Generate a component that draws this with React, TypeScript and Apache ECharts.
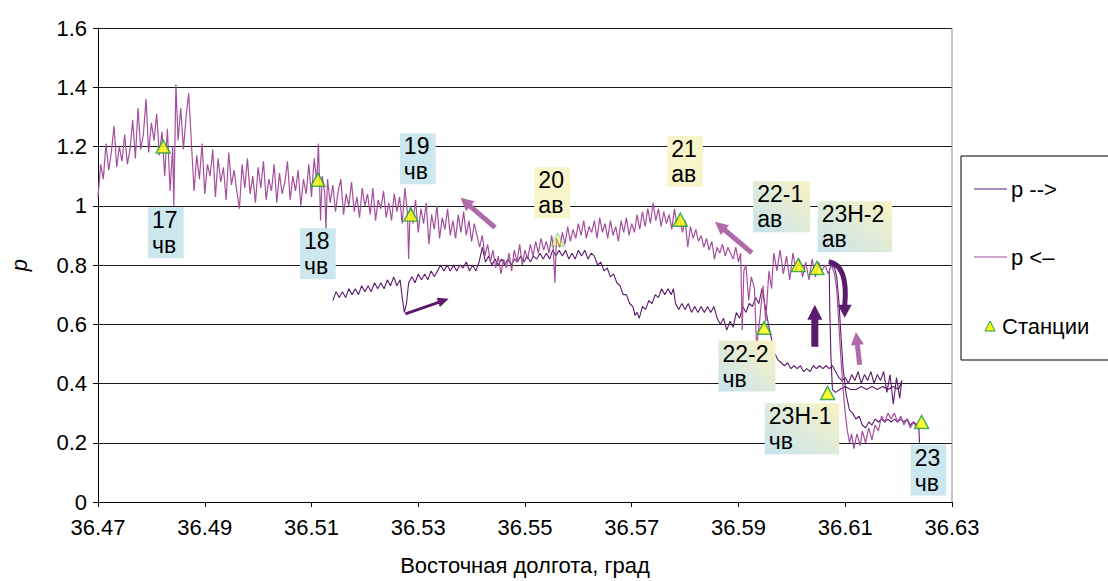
import React, { useEffect, useRef } from "react";
import * as echarts from "echarts";

// ---------- data ----------
const xMin = 36.47;
const xMax = 36.63;
const xStep = 0.02;
const yMin = 0;
const yMax = 1.6;
const yStep = 0.2;

// "p -->" (forward run)
const pFwd: [number, number][] = [
  [36.514, 0.68], [36.5146, 0.71], [36.5152, 0.69], [36.5158, 0.71], [36.5164, 0.69], [36.517, 0.72], [36.5176, 0.7], [36.5182, 0.72],
  [36.5188, 0.7], [36.5194, 0.73], [36.52, 0.71], [36.5206, 0.73], [36.5212, 0.71], [36.5218, 0.74], [36.5224, 0.72], [36.523, 0.74],
  [36.5236, 0.72], [36.5242, 0.75], [36.5248, 0.73], [36.5254, 0.76], [36.526, 0.73], [36.5266, 0.75], [36.527, 0.69], [36.5274, 0.64],
  [36.5278, 0.67], [36.5282, 0.74], [36.5288, 0.76], [36.5294, 0.74], [36.53, 0.77], [36.5306, 0.75], [36.5312, 0.77], [36.5318, 0.75],
  [36.5324, 0.78], [36.533, 0.76], [36.5336, 0.78], [36.5342, 0.8], [36.5348, 0.78], [36.5354, 0.8], [36.536, 0.78], [36.5366, 0.8],
  [36.5372, 0.78], [36.5378, 0.8], [36.5384, 0.79], [36.539, 0.81], [36.5396, 0.78], [36.5402, 0.8], [36.5408, 0.78], [36.5414, 0.81],
  [36.542, 0.86], [36.5426, 0.81], [36.5432, 0.83], [36.5438, 0.8], [36.5444, 0.82], [36.545, 0.8], [36.5456, 0.82], [36.5462, 0.8],
  [36.5468, 0.82], [36.5474, 0.8], [36.548, 0.82], [36.5486, 0.81], [36.5492, 0.83], [36.5498, 0.81], [36.5504, 0.83], [36.551, 0.81],
  [36.5516, 0.83], [36.5522, 0.82], [36.5528, 0.84], [36.5534, 0.82], [36.554, 0.84], [36.5546, 0.82], [36.5552, 0.85], [36.5558, 0.83],
  [36.5564, 0.85], [36.557, 0.83], [36.5576, 0.85], [36.5582, 0.82], [36.5588, 0.84], [36.5594, 0.82], [36.56, 0.85], [36.5606, 0.83],
  [36.5612, 0.85], [36.5618, 0.82], [36.5624, 0.84], [36.563, 0.83], [36.5636, 0.8], [36.5642, 0.81], [36.5648, 0.78], [36.5654, 0.79],
  [36.566, 0.76], [36.5666, 0.77], [36.5672, 0.74], [36.5678, 0.73], [36.5684, 0.7], [36.569, 0.7], [36.5696, 0.67], [36.5702, 0.66],
  [36.5706, 0.63], [36.571, 0.64], [36.5714, 0.62], [36.572, 0.66], [36.5726, 0.65], [36.5732, 0.68], [36.5738, 0.67], [36.5744, 0.7],
  [36.575, 0.69], [36.5756, 0.72], [36.5762, 0.7], [36.5768, 0.72], [36.5774, 0.7], [36.5778, 0.72], [36.5782, 0.67], [36.5788, 0.65],
  [36.5794, 0.67], [36.58, 0.65], [36.5806, 0.67], [36.5812, 0.64], [36.5818, 0.66], [36.5824, 0.64], [36.583, 0.66], [36.5836, 0.64],
  [36.5842, 0.66], [36.5848, 0.64], [36.5854, 0.66], [36.586, 0.62], [36.5866, 0.6], [36.5872, 0.62], [36.5878, 0.58], [36.5884, 0.61],
  [36.589, 0.59], [36.5896, 0.64], [36.5902, 0.62], [36.5908, 0.66], [36.5914, 0.64], [36.592, 0.67], [36.5926, 0.66], [36.5932, 0.69],
  [36.5938, 0.67], [36.5944, 0.72], [36.595, 0.66], [36.5956, 0.6], [36.5962, 0.55], [36.5968, 0.5], [36.5974, 0.48], [36.598, 0.47],
  [36.5986, 0.46], [36.5992, 0.47], [36.5998, 0.45], [36.6004, 0.46], [36.601, 0.45], [36.6016, 0.46], [36.6022, 0.44], [36.6028, 0.45],
  [36.6034, 0.44], [36.604, 0.46], [36.6046, 0.45], [36.6052, 0.46], [36.6058, 0.45], [36.6064, 0.46], [36.607, 0.45], [36.6076, 0.46],
  [36.6082, 0.44], [36.6088, 0.42], [36.6094, 0.41], [36.61, 0.42], [36.6106, 0.4], [36.6112, 0.43], [36.6118, 0.41], [36.6124, 0.44],
  [36.613, 0.4], [36.6136, 0.43], [36.6142, 0.41], [36.6148, 0.44], [36.6154, 0.4], [36.616, 0.43], [36.6166, 0.41], [36.6172, 0.44],
  [36.6178, 0.37], [36.6184, 0.43], [36.619, 0.33], [36.6196, 0.42], [36.6202, 0.35], [36.6206, 0.41],
  [36.62, 0.38], [36.619, 0.39], [36.618, 0.38], [36.617, 0.39], [36.616, 0.38], [36.615, 0.39], [36.614, 0.38], [36.613, 0.39],
  [36.612, 0.38], [36.611, 0.38], [36.61, 0.39], [36.609, 0.38], [36.6082, 0.37], [36.6076, 0.38],
  [36.6073, 0.5], [36.6071, 0.65], [36.607, 0.78], [36.6074, 0.8], [36.608, 0.79], [36.6084, 0.76],
  [36.6088, 0.68], [36.6092, 0.56], [36.6096, 0.45], [36.6102, 0.36], [36.6108, 0.31],
  [36.6114, 0.3], [36.612, 0.28], [36.6126, 0.29], [36.6132, 0.26], [36.6138, 0.25], [36.6144, 0.27], [36.615, 0.26], [36.6156, 0.28],
  [36.6162, 0.27], [36.6168, 0.28], [36.6174, 0.27], [36.618, 0.28], [36.6186, 0.27], [36.6192, 0.28], [36.6198, 0.27], [36.6204, 0.28],
  [36.621, 0.27], [36.6216, 0.28], [36.6222, 0.26], [36.6228, 0.27], [36.6234, 0.26], [36.6238, 0.25], [36.6239, 0.2],
];

// "p <–" (return run)
const pBack: [number, number][] = [
  [36.47, 1.03], [36.4705, 1.14], [36.471, 1.09], [36.4715, 1.21], [36.472, 1.12], [36.4725, 1.18], [36.473, 1.27], [36.4735, 1.13],
  [36.474, 1.2], [36.4745, 1.15], [36.475, 1.24], [36.4755, 1.14], [36.476, 1.19], [36.4765, 1.29], [36.477, 1.16], [36.4775, 1.33],
  [36.478, 1.19], [36.4785, 1.24], [36.479, 1.36], [36.4795, 1.18], [36.48, 1.28], [36.4805, 1.22], [36.481, 1.31], [36.4815, 1.17],
  [36.482, 1.25], [36.4825, 1.1], [36.483, 1.26], [36.4835, 1.05], [36.484, 1.2], [36.4842, 1.0], [36.4846, 1.41], [36.485, 1.22],
  [36.4855, 1.33], [36.486, 1.19], [36.4865, 1.3], [36.487, 1.38], [36.4875, 1.21], [36.488, 1.05], [36.4885, 1.17], [36.489, 1.09],
  [36.4895, 1.21], [36.49, 1.04], [36.4905, 1.14], [36.491, 1.1], [36.4915, 1.19], [36.492, 1.03], [36.4925, 1.16], [36.493, 1.08],
  [36.4935, 1.13], [36.494, 1.02], [36.4945, 1.18], [36.495, 1.07], [36.4955, 1.12], [36.496, 1.05], [36.4965, 0.99], [36.497, 1.14],
  [36.4975, 1.06], [36.498, 1.16], [36.4985, 1.04], [36.499, 1.1], [36.4995, 1.01], [36.5, 1.13], [36.5005, 1.06], [36.501, 1.15],
  [36.5015, 1.02], [36.502, 1.09], [36.5025, 1.05], [36.503, 1.14], [36.5035, 1.01], [36.504, 1.11], [36.5045, 1.04], [36.505, 1.08],
  [36.5055, 1.15], [36.506, 1.02], [36.5065, 1.1], [36.507, 1.05], [36.5075, 1.12], [36.508, 1.0], [36.5085, 1.09], [36.509, 1.04],
  [36.5095, 1.14], [36.51, 1.03], [36.5105, 1.16], [36.511, 1.08], [36.5113, 1.21], [36.5117, 0.95], [36.512, 1.1], [36.5125, 1.04],
  [36.5127, 0.92], [36.513, 1.09], [36.5135, 1.01], [36.514, 1.07], [36.5145, 0.98], [36.515, 1.05], [36.5155, 1.09], [36.516, 0.97],
  [36.5165, 1.04], [36.517, 1.0], [36.5175, 1.08], [36.518, 0.98], [36.5185, 1.03], [36.519, 0.96], [36.5195, 1.06], [36.52, 1.0],
  [36.5205, 1.04], [36.521, 0.97], [36.5215, 1.06], [36.522, 0.95], [36.5225, 1.02], [36.523, 0.99], [36.5235, 1.05], [36.524, 0.96],
  [36.5245, 1.01], [36.525, 0.95], [36.5255, 1.04], [36.526, 0.98], [36.5265, 1.03], [36.527, 0.94], [36.5275, 1.06], [36.528, 0.97],
  [36.5282, 0.82], [36.5285, 1.0], [36.529, 0.94], [36.5295, 1.02], [36.53, 0.91], [36.5305, 0.99], [36.531, 0.94], [36.5315, 1.01],
  [36.532, 0.87], [36.5325, 0.97], [36.533, 0.92], [36.5335, 1.0], [36.534, 0.89], [36.5345, 0.96], [36.535, 0.92], [36.5355, 0.99],
  [36.536, 0.9], [36.5365, 0.95], [36.537, 0.89], [36.5375, 0.97], [36.538, 0.91], [36.5385, 0.98], [36.539, 0.9], [36.5395, 0.95],
  [36.54, 0.88], [36.5405, 0.94], [36.541, 0.9], [36.5415, 0.86], [36.542, 0.9], [36.5425, 0.83], [36.543, 0.87], [36.5435, 0.81],
  [36.544, 0.85], [36.5445, 0.79], [36.545, 0.83], [36.5455, 0.77], [36.546, 0.82], [36.5465, 0.79], [36.547, 0.84], [36.5475, 0.78],
  [36.548, 0.85], [36.5485, 0.81], [36.549, 0.87], [36.5495, 0.8], [36.55, 0.85], [36.5505, 0.82], [36.551, 0.87], [36.5515, 0.83],
  [36.552, 0.88], [36.5525, 0.84], [36.553, 0.89], [36.5535, 0.85], [36.554, 0.88], [36.5545, 0.84], [36.555, 0.9], [36.5553, 0.86],
  [36.5556, 0.74], [36.5559, 0.89], [36.5565, 0.86], [36.557, 0.91], [36.5575, 0.87], [36.558, 0.93], [36.5585, 0.88], [36.559, 0.92],
  [36.5595, 0.89], [36.56, 0.94], [36.5605, 0.9], [36.561, 0.95], [36.5615, 0.89], [36.562, 0.93], [36.5625, 0.91], [36.563, 0.95],
  [36.5635, 0.89], [36.564, 0.96], [36.5645, 0.91], [36.565, 0.94], [36.5655, 0.89], [36.566, 0.95], [36.5665, 0.9], [36.567, 0.93],
  [36.5675, 0.88], [36.568, 0.95], [36.5685, 0.91], [36.569, 0.96], [36.5695, 0.9], [36.57, 0.94], [36.5705, 0.91], [36.571, 0.97],
  [36.5715, 0.92], [36.572, 0.98], [36.5725, 0.93], [36.573, 0.99], [36.5735, 0.94], [36.574, 1.01], [36.5745, 0.95], [36.575, 0.99],
  [36.5755, 0.93], [36.576, 0.98], [36.5765, 0.94], [36.577, 0.97], [36.5775, 0.92], [36.578, 0.99], [36.5785, 0.93], [36.579, 0.96],
  [36.5795, 0.91], [36.58, 0.95], [36.5805, 0.86], [36.581, 0.93], [36.5815, 0.89], [36.582, 0.92], [36.5825, 0.88], [36.583, 0.9],
  [36.5835, 0.86], [36.584, 0.89], [36.5845, 0.85], [36.585, 0.88], [36.5855, 0.82], [36.586, 0.86], [36.5865, 0.84], [36.587, 0.87],
  [36.5875, 0.83], [36.588, 0.86], [36.5885, 0.84], [36.589, 0.82], [36.5895, 0.86], [36.59, 0.81], [36.5904, 0.84], [36.5907, 0.58],
  [36.591, 0.78], [36.5914, 0.8], [36.5919, 0.68], [36.5924, 0.76], [36.593, 0.72], [36.5934, 0.52], [36.594, 0.62], [36.5946, 0.73],
  [36.5951, 0.61], [36.5957, 0.78], [36.5962, 0.72], [36.5966, 0.84], [36.5972, 0.78], [36.5978, 0.85], [36.5984, 0.77], [36.599, 0.83],
  [36.5996, 0.75], [36.6002, 0.84], [36.6008, 0.78], [36.6014, 0.82], [36.602, 0.76], [36.6026, 0.81], [36.6032, 0.75], [36.6038, 0.82],
  [36.6044, 0.76], [36.605, 0.81], [36.6056, 0.78], [36.6062, 0.8], [36.6068, 0.77], [36.6074, 0.8], [36.608, 0.77], [36.6084, 0.72],
  [36.6088, 0.6], [36.6092, 0.48], [36.6096, 0.38], [36.61, 0.3], [36.6104, 0.24], [36.6108, 0.2], [36.6112, 0.23], [36.6116, 0.18],
  [36.6122, 0.23], [36.6128, 0.19], [36.6132, 0.24], [36.6138, 0.2], [36.6144, 0.25], [36.615, 0.21], [36.6156, 0.26], [36.6162, 0.24],
  [36.6168, 0.29], [36.6174, 0.27], [36.618, 0.3], [36.6186, 0.28], [36.6192, 0.3], [36.6198, 0.27], [36.6204, 0.29], [36.621, 0.26],
  [36.6216, 0.28], [36.6222, 0.25], [36.6228, 0.27], [36.6234, 0.25], [36.6238, 0.26],
];

// stations
const stationNames = ["17", "18", "19", "20", "21", "22-1", "23Н-2", "22-2", "23Н-1", "23"];
const stationX = [36.4822, 36.5112, 36.5286, 36.5561, 36.5791, 36.6012, 36.6047, 36.5948, 36.6067, 36.6243];
const stationY = [1.2, 1.088, 0.97, 0.885, 0.953, 0.8, 0.79, 0.588, 0.368, 0.27];

// station labels (text + anchor in data units)
const labelText = ["17\nчв", "18\nчв", "19\nчв", "20\nав", "21\nав", "22-1\nав", "23Н-2\nав", "22-2\nчв", "23Н-1\nчв", "23\nчв"];
const labelX = [36.4827, 36.5112, 36.5299, 36.5551, 36.58, 36.5981, 36.6118, 36.5916, 36.6019, 36.6256];
const labelY = [0.909, 0.838, 1.159, 1.044, 1.149, 0.997, 0.929, 0.459, 0.247, 0.108];
const labelKind = ["blue", "blue", "blue", "yellow", "yellow", "mix", "mix", "mix", "mix", "blue"];

// direction arrows (data units): [x0, y0, x1, y1]
const arrowsLight: number[][] = [
  [36.5444, 0.926, 36.5379, 1.027],
  [36.5925, 0.841, 36.5856, 0.946],
  [36.6127, 0.463, 36.612, 0.574],
];
const arrowFwdThin = [36.5276, 0.635, 36.5357, 0.686];
const arrowFwdUp = [36.6043, 0.524, 36.6043, 0.666];
const arrowFwdCurve = [36.6069, 0.811, 36.6106, 0.8, 36.6099, 0.622];

const DARK = "#5c1a6c";
const LIGHT = "#a44f9e";
const ARROW_LIGHT = "#b06aa9";
const FONT = '"Liberation Sans", Arial, sans-serif';

function arrowEls(p0: number[], p1: number[], color: string, w: number, hw: number, hl: number) {
  const dx = p1[0] - p0[0];
  const dy = p1[1] - p0[1];
  const len = Math.hypot(dx, dy) || 1;
  const ux = dx / len, uy = dy / len;
  const nx = -uy, ny = ux;
  const bx = p1[0] - ux * hl, by = p1[1] - uy * hl;
  return [
    { type: "line", shape: { x1: p0[0], y1: p0[1], x2: bx + ux, y2: by + uy }, style: { stroke: color, lineWidth: w }, z: 20 },
    {
      type: "polygon",
      shape: { points: [[p1[0], p1[1]], [bx + nx * hw / 2, by + ny * hw / 2], [bx - nx * hw / 2, by - ny * hw / 2]] },
      style: { fill: color },
      z: 20,
    },
  ];
}

export default function App() {
  const ref = useRef<HTMLDivElement>(null);
  useEffect(() => {
    const chart = echarts.init(ref.current!, null, { renderer: "svg" });
    chart.setOption({
      animation: false,
      backgroundColor: "#fff",
      grid: { left: 95, right: 156, top: 28, bottom: 79 },
      xAxis: {
        type: "value",
        min: xMin,
        max: xMax,
        interval: xStep,
        name: "Восточная долгота, град",
        nameLocation: "middle",
        nameGap: 52,
        nameTextStyle: { fontSize: 22, color: "#000", fontFamily: FONT },
        axisLine: { lineStyle: { color: "#000", width: 1 } },
        axisTick: { show: true, length: 5, lineStyle: { color: "#000" } },
        axisLabel: { fontSize: 22, color: "#000", fontFamily: FONT, margin: 14, formatter: (v: number) => v.toFixed(2) },
        splitLine: { show: false },
      },
      yAxis: {
        type: "value",
        min: yMin,
        max: yMax,
        interval: yStep,
        name: "p",
        nameLocation: "middle",
        nameGap: 68,
        nameRotate: 90,
        nameTextStyle: { fontSize: 22, color: "#000", fontFamily: FONT, fontStyle: "italic" },
        axisLine: { show: true, lineStyle: { color: "#000", width: 1 } },
        axisTick: { show: true, length: 5, lineStyle: { color: "#000" } },
        axisLabel: { fontSize: 22, color: "#000", fontFamily: FONT, margin: 11, formatter: (v: number) => String(+v.toFixed(1)) },
        splitLine: { show: true, lineStyle: { color: "#1a1a1a", width: 1 } },
      },
      series: [
        {
          name: "p -->",
          type: "line",
          data: pFwd,
          symbol: "none",
          lineStyle: { color: DARK, width: 1.1 },
          z: 3,
        },
        {
          name: "p <–",
          type: "line",
          data: pBack,
          symbol: "none",
          lineStyle: { color: LIGHT, width: 1.2 },
          z: 4,
        },
        {
          name: "Станции",
          type: "scatter",
          symbol: "triangle",
          symbolSize: [14, 13],
          data: stationX.map((x, i) => ({
            value: [x, stationY[i]],
            name: stationNames[i],
            itemStyle: i === 3 ? { opacity: 0.3 } : undefined,
          })),
          itemStyle: { color: "#ffff00", borderColor: "#1c9a47", borderWidth: 1.5 },
          z: 6,
        },
      ],
    });

    const toPx = (x: number, y: number) => chart.convertToPixel({ gridIndex: 0 }, [x, y]) as number[];
    const canvas = document.createElement("canvas");
    const ctx = canvas.getContext("2d")!;
    ctx.font = `24px ${FONT}`;

    const graphics: any[] = [];

    // right border of plot area
    const tr = toPx(xMax, yMax);
    const br = toPx(xMax, yMin);
    graphics.push({ type: "line", shape: { x1: tr[0], y1: tr[1], x2: br[0], y2: br[1] }, style: { stroke: "#8c8c8c", lineWidth: 1 }, z: 1 });

    // station labels
    labelText.forEach((t, i) => {
      const c = toPx(labelX[i], labelY[i]);
      const w = Math.max(...t.split("\n").map((s) => ctx.measureText(s).width)) + 9;
      const h = 51;
      let fill: any;
      if (labelKind[i] === "blue") fill = "#cde7ef";
      else if (labelKind[i] === "yellow") fill = "#f8f5cb";
      else
        fill = new echarts.graphic.LinearGradient(0, 1, 1, 0, [
          { offset: 0, color: "#c6e3ef" },
          { offset: 1, color: "#f9f3c2" },
        ]);
      const left = c[0] - w / 2;
      graphics.push({ type: "rect", shape: { x: left, y: c[1] - h / 2, width: w, height: h }, style: { fill }, z: 30 });
      const lines = t.split("\n");
      graphics.push({
        type: "text",
        x: left + 4,
        y: c[1] - 12.5,
        style: { text: lines[0], fontSize: 23, fontFamily: FONT, fill: "#000", align: "left", verticalAlign: "middle" },
        z: 31,
      });
      graphics.push({
        type: "text",
        x: left + 4,
        y: c[1] + 12.5,
        style: { text: lines[1], fontSize: 23, fontFamily: FONT, fill: "#000", align: "left", verticalAlign: "middle" },
        z: 31,
      });
    });

    // arrows
    arrowsLight.forEach((a) => {
      graphics.push(...arrowEls(toPx(a[0], a[1]), toPx(a[2], a[3]), ARROW_LIGHT, 5, 13, 13));
    });
    graphics.push(...arrowEls(toPx(arrowFwdThin[0], arrowFwdThin[1]), toPx(arrowFwdThin[2], arrowFwdThin[3]), DARK, 3, 10, 11));
    graphics.push(...arrowEls(toPx(arrowFwdUp[0], arrowFwdUp[1]), toPx(arrowFwdUp[2], arrowFwdUp[3]), DARK, 7, 15, 15));
    {
      const s = toPx(arrowFwdCurve[0], arrowFwdCurve[1]);
      const cp = toPx(arrowFwdCurve[2], arrowFwdCurve[3]);
      const e = toPx(arrowFwdCurve[4], arrowFwdCurve[5]);
      const hl = 13;
      const base = [e[0], e[1] - hl];
      graphics.push({
        type: "bezierCurve",
        shape: { x1: s[0], y1: s[1], x2: base[0], y2: base[1] + 1, cpx1: cp[0], cpy1: cp[1] },
        style: { stroke: DARK, lineWidth: 5, fill: "none" },
        z: 20,
      });
      graphics.push({
        type: "polygon",
        shape: { points: [[e[0], e[1]], [base[0] - 7, base[1]], [base[0] + 7, base[1]]] },
        style: { fill: DARK },
        z: 20,
      });
    }

    // legend
    const lx = 961, ly = 156;
    graphics.push({
      type: "group",
      z: 40,
      children: [
        { type: "rect", shape: { x: lx, y: ly, width: 170, height: 204 }, style: { fill: "#fff", stroke: "#000", lineWidth: 1 } },
        { type: "line", shape: { x1: 974, y1: 189, x2: 1007, y2: 189 }, style: { stroke: DARK, lineWidth: 1.2 } },
        { type: "text", x: 1011, y: 189, style: { text: "p -->", fontSize: 22, fontFamily: FONT, fill: "#000", verticalAlign: "middle" } },
        { type: "line", shape: { x1: 974, y1: 257, x2: 1007, y2: 257 }, style: { stroke: LIGHT, lineWidth: 1.2 } },
        { type: "text", x: 1011, y: 257, style: { text: "p <–", fontSize: 22, fontFamily: FONT, fill: "#000", verticalAlign: "middle" } },
        {
          type: "polygon",
          shape: { points: [[990, 321], [985, 331], [995, 331]] },
          style: { fill: "#ffff00", stroke: "#1c9a47", lineWidth: 1 },
        },
        { type: "text", x: 1002, y: 326, style: { text: "Станции", fontSize: 22, fontFamily: FONT, fill: "#000", verticalAlign: "middle" } },
      ],
    });

    chart.setOption({ graphic: graphics });
    return () => chart.dispose();
  }, []);
  return <div ref={ref} style={{ position: "absolute", left: 0, top: 0, width: 1108, height: 581 }} />;
}
